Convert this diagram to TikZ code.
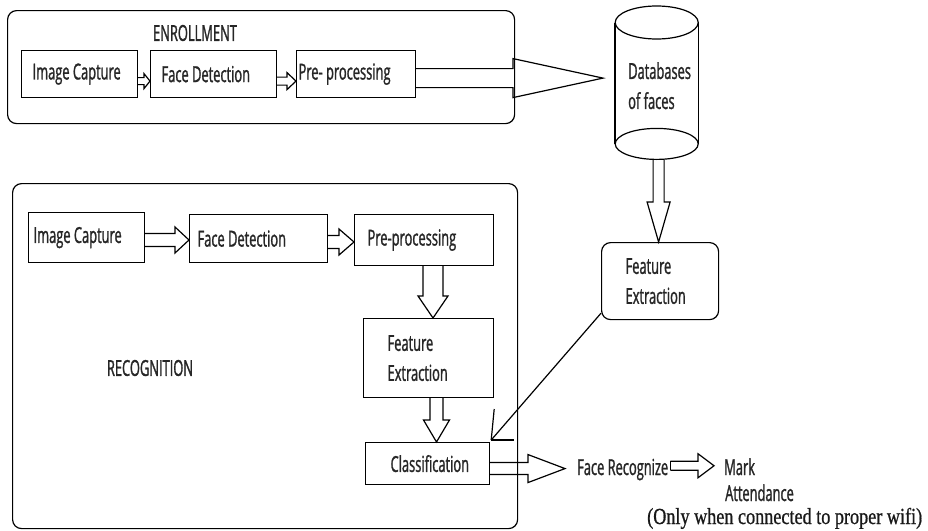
\documentclass[tikz,border=0pt]{standalone}
\usepackage{fontspec}
\setmainfont[FakeStretch=0.585, FakeBold=1.2]{Open Sans}
\newfontfamily\wififont[FakeStretch=0.79, FakeBold=0.8]{Liberation Serif}
\usetikzlibrary{calc}
\tikzset{
  ln/.style={line width=1.2pt, black},
  frame/.style={ln, draw, rectangle, rounded corners=9pt, anchor=north west, inner sep=0pt},
  box/.style={ln, draw, rectangle, anchor=north west, inner ysep=0pt, align=flush left,
              font=\fontsize{22}{30}\selectfont, text=black!85},
  txt/.style={inner sep=0pt, font=\fontsize{22}{30}\selectfont, text=black!85},
  barrow/.style={ln, line join=miter}
}
% horizontal block arrow: start, tip, shaft half, head half, head length
\newcommand\HArrow[5]{%
  \draw[barrow] ($(#1)+(0,-#3)$) -- ($(#2)+(-#5,-#3)$) -- ($(#2)+(-#5,-#4)$) -- (#2)
    -- ($(#2)+(-#5,#4)$) -- ($(#2)+(-#5,#3)$) -- ($(#1)+(0,#3)$);}
% vertical (downward) block arrow
\newcommand\VArrow[5]{%
  \draw[barrow] ($(#1)+(-#3,0)$) -- ($(#2)+(-#3,-#5)$) -- ($(#2)+(-#4,-#5)$) -- (#2)
    -- ($(#2)+(#4,-#5)$) -- ($(#2)+(#3,-#5)$) -- ($(#1)+(#3,0)$);}
\begin{document}
\begin{tikzpicture}[x=1pt,y=-1pt]
\useasboundingbox (0,0) rectangle (928,530);

% ---------- Enrollment ----------
\node[frame, minimum width=507pt, minimum height=113pt] (enr) at (7,10) {};
\node[txt] (enrl) at (195,33) {ENROLLMENT};
\node[box, minimum height=47pt, inner xsep=11pt, text width=94pt] (ic1) at (21,50) {Image Capture};
\node[box, minimum height=47pt, inner xsep=11pt, text width=104pt] (fd1) at (150,50) {Face Detection};
\node[box, minimum height=47pt, inner xsep=2pt, text width=115pt] (pp1) at (296,50) {Pre- processing};

\coordinate (a1t) at ($(fd1.west)+(0,7)$);
\coordinate (a1s) at (ic1.east |- a1t);
\HArrow{a1s}{a1t}{3.5}{7.5}{6}
\coordinate (a2t) at ($(pp1.west)+(0,7)$);
\coordinate (a2s) at (fd1.east |- a2t);
\HArrow{a2s}{a2t}{4}{8.5}{9}

% ---------- Database ----------
\node[inner ysep=0pt, inner xsep=13pt, text width=57pt, minimum height=153pt, anchor=north west,
      align=flush left, font=\fontsize{22}{30}\selectfont, text=black!85] (db) at (615,9) {Databases\\of faces};
\draw[ln] ($(db.north)+(0,13.5)$) ellipse [x radius=41.5pt, y radius=16.5pt];
\draw[ln] ($(db.south)+(0,-18.5)$) ellipse [x radius=41.5pt, y radius=15.5pt];
\draw[ln] ($(db.north west)+(0,13.5)$) -- ($(db.south west)+(0,-18.5)$);
\draw[ln] ($(db.north east)+(0,13.5)$) -- ($(db.south east)+(0,-18.5)$);

\coordinate (b0) at ($(pp1.east)+(0,4)$);
\coordinate (b1) at ($(db.west |- b0)+(-12,0)$);
\HArrow{b0}{b1}{9.5}{19.5}{90}

% ---------- Right feature extraction ----------
\node[box, rounded corners=9pt, minimum height=77pt, inner xsep=24pt, text width=69pt] (fe1) at (601,242) {Feature\\Extraction};
\coordinate (c1) at ($(fe1.north)+(-1.5,0)$);
\coordinate (c0) at ($(c1 |- db.south)+(0,-3)$);
\VArrow{c0}{c1}{5.5}{11.5}{40}

% ---------- Recognition ----------
\node[frame, minimum width=505pt, minimum height=345pt] (rec) at (12,183) {};
\node[txt] (recl) at (150,368) {RECOGNITION};
\node[box, minimum height=50pt, inner xsep=5pt, text width=106pt] (ic2) at (28,212) {Image Capture};
\node[box, minimum height=48pt, inner xsep=8pt, text width=122pt] (fd2) at (189,214) {Face Detection};
\node[box, minimum height=51pt, inner xsep=13pt, text width=113pt] (pp2) at (354,214) {Pre-processing};
\node[box, minimum height=79pt, inner xsep=24pt, text width=82pt] (fe2) at (363,318) {Feature\\Extraction};
\node[box, minimum height=42pt, inner xsep=25pt, text width=74pt] (cl) at (365,442) {Classification};

\coordinate (d1t) at (fd2.west |- 0,240);
\coordinate (d1s) at (ic2.east |- d1t);
\HArrow{d1s}{d1t}{6.5}{13}{14}
\coordinate (d2t) at (pp2.west |- 0,242);
\coordinate (d2s) at (fd2.east |- d2t);
\HArrow{d2s}{d2t}{6.5}{13}{15}
\coordinate (d3t) at ($(fe2.north west)+(70,0)$);
\coordinate (d3s) at (d3t |- pp2.south);
\VArrow{d3s}{d3t}{10}{15}{22}
\coordinate (d4t) at ($(cl.north west)+(71.5,0)$);
\coordinate (d4s) at (d4t |- fe2.south);
\VArrow{d4s}{d4t}{6.5}{13}{22}

% link from right feature extraction to classification
\coordinate (hit) at ($(cl.north east)+(1,-2)$);
\draw[ln] ($(fe1.south west)+(0,-7)$) -- (hit);
\draw[ln] (hit) -- ++(3,-31);
\draw[ln] (hit) -- ++(23,0);

% ---------- Output ----------
\node[txt, anchor=base west] (fr) at (577,475) {Face Recognize};
\node[txt, anchor=base west] (mk) at (724,475) {Mark};
\node[txt, anchor=base west] (att) at (725,501) {Attendance};
\node[inner sep=0pt, anchor=base west, font=\wififont\fontsize{23}{28}\selectfont, text=black!90] (wifi) at (647,524) {(Only when connected to proper wifi)};

\coordinate (e1t) at ($(fr.west)+(-12,-1)$);
\coordinate (e1s) at (cl.east |- e1t);
\HArrow{e1s}{e1t}{6}{14}{37}
\coordinate (e2t) at ($(mk.west)+(-10,-1)$);
\coordinate (e2s) at ($(fr.east |- e2t)+(2,0)$);
\HArrow{e2s}{e2t}{4.5}{12}{16}
\draw[ln] ($(e2s)+(0,-4.5)$) -- ($(e2s)+(0,4.5)$);
\end{tikzpicture}
\end{document}
